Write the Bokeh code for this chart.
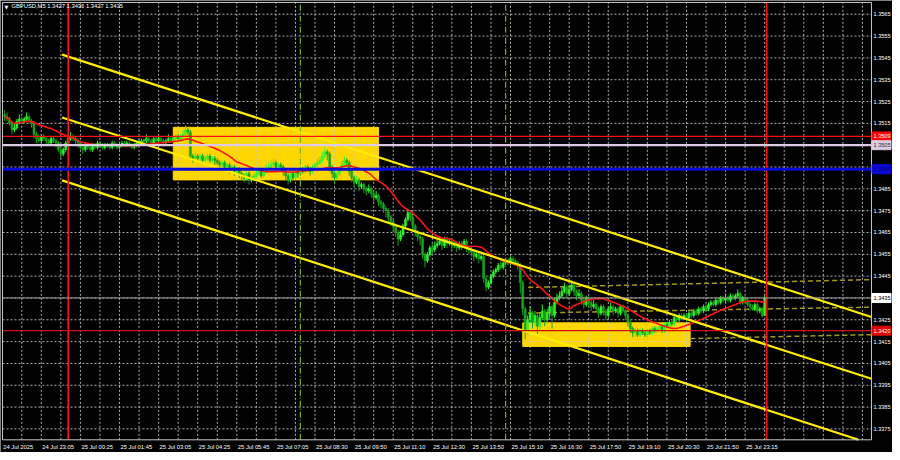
import numpy as np
import pandas as pd
from bokeh.plotting import figure
from bokeh.models import Label, Range1d
from bokeh.core.properties import value
from bokeh.embed import file_html
from bokeh.resources import INLINE

# ---------------- data ----------------
symbol = "GBPUSD,M5"
base_price = 1.3400          # candle values below are pips above this base
first_open_pips = 119

close_pips = [
    118,117,115,112,113,116,117,116,117,118,116,115,110,
    108,107,109,108,107,106,108,107,106,103,
    101,103,106,
    108,109,108,107,106,
    104,103,105,104,103,105,104,106,105,
    104,105,105,104,106,105,104,105,106,105,106,105,104,105,106,106,107,
    107,108,107,106,108,107,108,107,106,107,
    108,107,108,109,108,109,
    110,112,111,
    100,
    99,100,99,100,98,99,100,98,99,98,97,
    96,97,95,96,94,95,93,94,
    92,91,90,92,89,90,91,
    92,93,91,93,94,95,
    96,97,95,96,95,
    93,91,89,92,90,93,
    92,94,93,95,94,93,95,96,97,
    98,100,102,101,
    95,92,90,92,94,
    96,98,97,
    93,90,88,89,86,87,85,84,85,
    83,81,82,79,78,
    76,75,
    72,70,68,
    65,62,64,
    68,71,74,72,
    68,65,63,62,
    55,52,
    55,58,57,59,
    60,61,59,62,60,61,59,60,
    58,60,59,61,58,57,
    56,54,55,53,54,
    44,40,42,
    45,47,48,50,49,
    51,52,51,53,52,51,50,
    42,
    30,20,25,
    28,24,27,22,26,29,25,
    28,31,27,33,35,
    36,38,40,37,39,41,38,36,37,
    34,32,35,33,31,32,
    30,28,31,29,27,30,
    31,29,30,28,31,29,27,
    24,21,19,20,
    18,20,19,18,20,19,21,20,
    21,22,20,23,22,
    24,23,26,25,27,26,
    27,26,28,27,29,
    28,30,29,31,30,32,
    33,32,34,33,35,34,
    35,34,36,35,36,
    37,33,35,34,
    32,31,30,32,29,30,27,
    35,
]

high_pips = [
    121,120,118,116,115,117,119,118,118,120,119,117,116,
    111,110,110,110,109,108,109,109,108,107,
    104,104,107,
    110,111,110,109,108,
    107,105,106,106,105,106,106,107,107,
    106,106,106,106,107,107,106,106,107,107,107,107,106,106,107,108,108,
    108,110,109,108,109,109,109,109,108,108,
    110,109,109,110,110,110,
    112,114,113,
    112,
    101,102,101,101,101,100,101,101,100,100,99,
    98,98,98,97,97,96,96,95,
    95,93,92,93,93,91,92,
    94,95,94,94,96,97,
    98,99,98,97,97,
    96,94,92,93,93,94,
    94,95,95,96,96,95,96,97,99,
    100,102,104,103,
    102,96,93,93,95,
    98,100,99,
    98,94,91,91,90,88,88,86,87,
    86,84,84,83,80,
    79,77,
    76,73,71,
    69,66,66,
    69,72,76,75,
    73,69,66,64,
    63,56,
    56,59,60,61,
    62,63,62,63,63,62,62,61,
    61,61,61,62,62,59,
    58,57,56,56,55,
    55,45,43,
    46,48,49,51,52,
    52,53,53,54,54,53,52,
    51,
    43,31,27,
    31,29,29,28,28,32,30,
    30,33,32,35,37,
    38,40,42,41,41,43,42,39,39,
    38,35,36,36,34,34,
    33,31,32,32,30,31,
    33,32,31,31,32,32,30,
    28,25,22,21,
    21,21,21,20,21,21,22,22,
    22,23,23,24,24,
    25,25,27,27,28,28,
    28,28,29,29,30,
    30,31,31,32,32,33,
    34,34,35,35,36,36,
    37,36,37,37,37,
    39,38,36,36,
    35,33,32,33,33,31,31,
    36,
]

low_pips = [
    116,116,114,110,111,112,115,115,115,116,115,113,108,
    106,106,106,107,105,105,105,106,104,102,
    99,100,102,
    105,107,107,105,104,
    103,101,102,103,102,102,103,103,104,
    103,103,104,103,103,104,103,103,104,104,104,104,103,103,104,105,105,
    106,106,106,105,105,106,106,106,105,105,
    106,106,106,107,107,107,
    108,109,109,
    99,
    97,98,98,98,97,97,98,97,97,96,96,
    94,95,94,94,92,93,91,92,
    90,89,88,89,87,88,89,
    90,91,90,90,92,93,
    94,95,94,94,93,
    91,89,87,88,89,89,
    90,91,92,92,93,91,92,94,95,
    96,97,99,98,
    93,90,87,89,91,
    93,95,95,
    91,88,86,87,84,85,83,82,83,
    81,79,80,77,76,
    74,72,
    70,68,66,
    63,59,61,
    63,67,70,70,
    66,63,61,59,
    53,49,
    51,54,55,56,
    58,59,57,58,58,59,57,58,
    56,57,57,58,56,55,
    54,52,53,51,52,
    42,38,39,
    41,44,46,47,48,
    48,50,50,50,51,50,48,
    37,
    27,16,18,
    23,21,22,18,20,25,22,
    23,26,21,26,32,
    34,35,37,35,36,38,36,34,35,
    32,30,31,31,29,30,
    28,26,27,27,25,26,
    29,27,28,26,27,28,25,
    22,19,17,17,
    17,17,18,17,17,18,18,19,
    19,20,19,19,21,
    21,22,22,24,24,25,
    25,24,25,26,26,
    27,27,28,28,29,29,
    31,31,31,32,32,33,
    33,33,33,34,34,
    35,32,32,33,
    31,29,29,29,28,28,26,
    27,
]

ma_period = 20

# price scale ticks and time labels
price_ticks = [1.3375, 1.3385, 1.3395, 1.3405, 1.3415, 1.3425, 1.3435, 1.3445,
               1.3455, 1.3465, 1.3475, 1.3485, 1.3495, 1.3505, 1.3515, 1.3525,
               1.3535, 1.3545, 1.3555, 1.3565]
time_label_bars = [0, 16, 32, 48, 64, 80, 96, 112, 128, 144, 160, 176, 192,
                   208, 224, 240, 256, 272, 288, 304]
time_labels = ["24 Jul 2025", "24 Jul 23:05", "25 Jul 00:25", "25 Jul 01:45",
               "25 Jul 03:05", "25 Jul 04:25", "25 Jul 05:45", "25 Jul 07:05",
               "25 Jul 08:30", "25 Jul 09:50", "25 Jul 11:10", "25 Jul 12:30",
               "25 Jul 13:50", "25 Jul 15:10", "25 Jul 16:30", "25 Jul 17:50",
               "25 Jul 19:10", "25 Jul 20:30", "25 Jul 21:50", "25 Jul 23:15"]
grid_bars = [8, 16, 24, 32, 40, 48, 56, 64, 72, 80, 88, 96, 104, 112, 120, 128,
             136, 144, 152, 160, 168, 176, 184, 192, 200, 208, 216, 224, 232,
             240, 248, 256, 264, 272, 280, 288, 296, 304, 312, 320, 328, 336,
             344, 352]

# horizontal levels with their axis tags
level_prices = [1.3509, 1.3505, 1.3494, 1.3435, 1.3420]
level_colors = ["#ff1010", "#dccbe2", "#0a0ad8", "#9a9a9a", "#d01010"]
level_widths = [1.2, 2.2, 3, 1, 1.2]
tag_fill = ["#ff0000", "#dccbe2", "#0a0ad8", "#ffffff", "#e00000"]
tag_text = ["#ffffff", "#303030", "#00006a", "#000000", "#ffffff"]

# vertical markers (bar index)
day_vlines = [27, 312.8]
session_vlines = [122, 206]

# yellow boxes (bar index / price)
box_left = [70, 213]
box_right = [154, 281.5]
box_bottom = [1.34891, 1.34128]
box_top = [1.35132, 1.34236]

# channel lines (bar index / price)
chan_x0 = [24.5, 24.5, 24.5]
chan_y0 = [1.35465, 1.35177, 1.34889]
chan_x1 = [355.7, 355.7, 350.4]
chan_y1 = [1.34263, 1.33980, 1.33700]

# dashed lines on the right
dash_x0 = [215.2, 215.2, 281.6]
dash_y0 = [1.34398, 1.34281, 1.34164]
dash_x1 = [355.7, 355.7, 355.7]
dash_y1 = [1.34434, 1.34308, 1.34182]

# ---------------- derived ----------------
close = base_price + np.array(close_pips) / 1e4
high = base_price + np.array(high_pips) / 1e4
low = base_price + np.array(low_pips) / 1e4
open_ = np.concatenate([[base_price + first_open_pips / 1e4], close[:-1]])
bars = np.arange(1, len(close) + 1)
bull = close >= open_
colors = np.where(bull, "#32f232", "#18a418")
body_top = np.maximum(open_, close)
body_bot = np.minimum(open_, close)
ma = pd.Series(close).rolling(ma_period, min_periods=1).mean().values

# ---------------- layout constants ----------------
x_lo, x_hi = -0.70, 364.3
y_lo, y_hi = 1.336419, 1.357130
chart_left, chart_right = 0.11, 355.7
chart_bottom, chart_top = 1.33700, 1.35704
time_row_y = 1.336689
tag_center_x = 359.8
FONT = "Liberation Sans"

p = figure(width=892, height=452,
           x_range=Range1d(x_lo, x_hi), y_range=Range1d(y_lo, y_hi),
           x_axis_type=None, y_axis_type=None,
           toolbar_location=None, output_backend="svg",
           background_fill_color="#000000", border_fill_color="#000000",
           outline_line_color=None,
           min_border_left=0, min_border_top=0, min_border_right=0,
           min_border_bottom=0)

# yellow boxes (background objects)
p.quad(left=box_left, right=box_right, bottom=box_bottom, top=box_top,
       fill_color="#ffd700", line_color="#ffd700")

# grid
n_v = len(grid_bars)
p.segment(x0=grid_bars, y0=[chart_bottom] * n_v, x1=grid_bars, y1=[chart_top] * n_v,
          line_color="#c4c4c4", line_width=1, line_dash="2 2", line_alpha=0.9)
n_h = len(price_ticks)
p.segment(x0=[chart_left] * n_h, y0=price_ticks, x1=[chart_right] * n_h, y1=price_ticks,
          line_color="#c4c4c4", line_width=1, line_dash="2 2", line_alpha=0.9)

# dashed olive lines
p.segment(x0=dash_x0, y0=dash_y0, x1=dash_x1, y1=dash_y1,
          line_color="#a39a14", line_width=1.5, line_dash="5 3")

# candles
p.segment(x0=bars, y0=low, x1=bars, y1=high, line_color=colors, line_width=1)
p.vbar(x=bars, width=0.8, top=body_top, bottom=body_bot,
       fill_color=colors, line_color=colors, line_width=0.6)

# moving average
p.line(bars, ma, line_color="#ff1414", line_width=1.6)

# channel
p.segment(x0=chan_x0, y0=chan_y0, x1=chan_x1, y1=chan_y1,
          line_color="#ffee00", line_width=2.2)

# vertical markers
nd = len(day_vlines)
ns = len(session_vlines)
p.segment(x0=session_vlines, y0=[chart_bottom] * ns, x1=session_vlines, y1=[chart_top] * ns,
          line_color="#78b020", line_width=1.2, line_dash="6 2 1 2")
p.segment(x0=day_vlines, y0=[chart_bottom] * nd, x1=day_vlines, y1=[chart_top] * nd,
          line_color="#ff1010", line_width=1.6)

# horizontal levels
nl = len(level_prices)
p.segment(x0=[chart_left] * nl, y0=level_prices, x1=[chart_right] * nl, y1=level_prices,
          line_color=level_colors, line_width=level_widths)

# chart border
p.quad(left=[chart_left], right=[chart_right], bottom=[chart_bottom], top=[chart_top],
       fill_color=None, line_color="#c8c8c8", line_width=1)

# price scale labels
p.text(x=[chart_right] * n_h, y=price_ticks, text=[f"{v:.4f}" for v in price_ticks],
       x_offset=2, text_align="left", text_baseline="middle",
       text_font=value(FONT), text_font_size=value("5.6px"), text_color="#ffffff")

# axis tags for levels
p.rect(x=[tag_center_x] * nl, y=level_prices, width=19, height=9,
       width_units="screen", height_units="screen",
       fill_color=tag_fill, line_color=tag_fill)
p.text(x=[chart_right] * nl, y=level_prices, text=[f"{v:.4f}" for v in level_prices],
       x_offset=2, text_align="left", text_baseline="middle",
       text_font=value(FONT), text_font_size=value("5.6px"), text_color=tag_text)

# time labels
nt = len(time_labels)
p.text(x=time_label_bars, y=[time_row_y] * nt, text=time_labels,
       x_offset=1, text_align="left", text_baseline="middle",
       text_font=value(FONT), text_font_size=value("5.8px"), text_color="#ffffff")

# header
o_last, h_last, l_last, c_last = open_[-1], high[-1], low[-1], close[-1]
p.add_layout(Label(x=chart_left, y=chart_top, x_offset=2, y_offset=-2, text="\u25BC",
                   text_align="left", text_baseline="top",
                   text_font="DejaVu Sans", text_font_size="5px",
                   text_color="#ffffff"))
p.add_layout(Label(x=chart_left, y=chart_top, x_offset=9, y_offset=-1,
                   text=f"{symbol}  {o_last:.4f} {h_last:.4f} {l_last:.4f} {c_last:.4f}",
                   text_align="left", text_baseline="top",
                   text_font=FONT, text_font_size="5.8px",
                   text_color="#ffffff"))

open("out.html", "w").write(file_html(p, INLINE))
